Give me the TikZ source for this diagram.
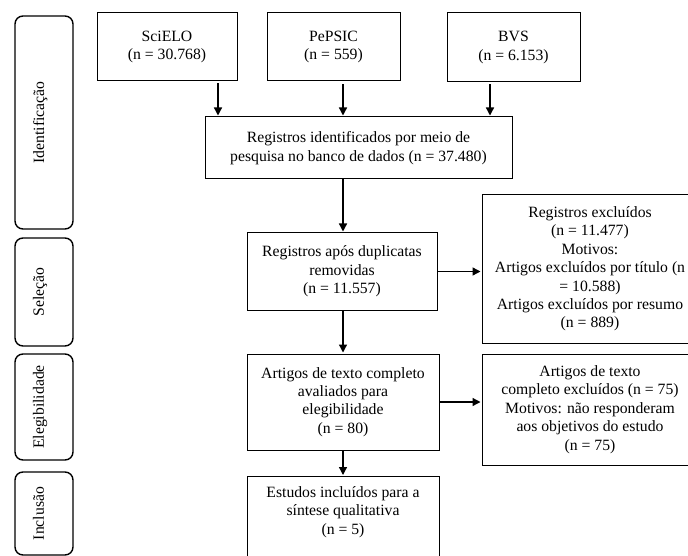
\documentclass[tikz,border=0pt]{standalone}
\usepackage{fontspec}
\setmainfont{Liberation Serif}
\usetikzlibrary{arrows.meta}

\begin{document}
\begin{tikzpicture}[x=1pt,y=-1pt,
  font=\fontsize{15.7}{18.4}\selectfont,
  caixa/.style={draw, line width=1pt, align=center, inner sep=0pt},
  fase/.style={draw, line width=1.4pt, rounded corners=8pt, rotate=90,
    minimum height=58pt, inner sep=0pt, text depth=11pt},
  seta/.style={line width=1.3pt, shorten >=1pt, -{Triangle[length=8pt,width=8pt]}}]
\path[use as bounding box] (0,0) rectangle (688,556);
\clip (0,0) rectangle (688,556);

% fases
\node[fase, minimum width=213pt] (ident) at (44,122.5) {Identificação};
\node[fase, minimum width=108pt] (selec) at (44,292) {Seleção};
\node[fase, minimum width=106pt] (eleg) at (44,407) {Elegibilidade};
\node[fase, minimum width=83pt] (inclu) at (44,513.5) {Inclusão};

% caixas
\node[caixa, minimum width=140pt, minimum height=68pt] (scielo) at (167,47) {SciELO\\(n = 30.768)};
\node[caixa, minimum width=133pt, minimum height=68pt] (pepsic) at (333.5,47) {PePSIC\\(n = 559)};
\node[caixa, minimum width=133pt, minimum height=69pt] (bvs) at (513.5,47.5) {BVS\\(n = 6.153)};
\node[caixa, minimum width=307pt, minimum height=62pt] (regid) at (358.5,148) {Registros identificados por meio de\\pesquisa no banco de dados (n = 37.480)};
\node[caixa, minimum width=190pt, minimum height=77pt] (dedup) at (342,271.5) {Registros após duplicatas\\removidas\\(n = 11.557)};
\node[caixa, minimum width=216pt, minimum height=148pt] (excl1) at (590,269) {Registros excluídos\\(n = 11.477)\\Motivos:\\Artigos excluídos por título (n\\= 10.588)\\Artigos excluídos por resumo\\(n = 889)};
\node[caixa, minimum width=192pt, minimum height=96pt] (texto) at (343,402) {Artigos de texto completo\\avaliados para\\elegibilidade\\(n = 80)};
\node[caixa, minimum width=216pt, minimum height=111pt] (excl2) at (590,409.5) {Artigos de texto\\completo excluídos (n = 75)\\Motivos: não responderam\\aos objetivos do estudo\\(n = 75)};
\node[caixa, minimum width=192pt, anchor=north, inner ysep=10pt, text depth=70pt] (incl) at (343,476) {Estudos incluídos para a\\síntese qualitativa\\(n = 5)};

% setas
\coordinate (s1) at ([xshift=51pt,yshift=-2pt]scielo.south);
\coordinate (s2) at ([xshift=9.5pt,yshift=-3pt]pepsic.south);
\coordinate (s3) at ([xshift=-23.5pt,yshift=-2pt]bvs.south);
\draw[seta] (s1) -- (s1 |- regid.north);
\draw[seta] (s2) -- (s2 |- regid.north);
\draw[seta] (s3) -- (s3 |- regid.north);
\draw[seta] (texto.north |- regid.south) -- (texto.north |- dedup.north);
\draw[seta] (dedup.east) -- (dedup.east -| excl1.west);
\draw[seta] (texto.north |- dedup.south) -- (texto.north);
\draw[seta] (texto.east) -- (texto.east -| excl2.west);
\draw[seta] (texto.south) -- (incl.north);
\end{tikzpicture}
\end{document}
